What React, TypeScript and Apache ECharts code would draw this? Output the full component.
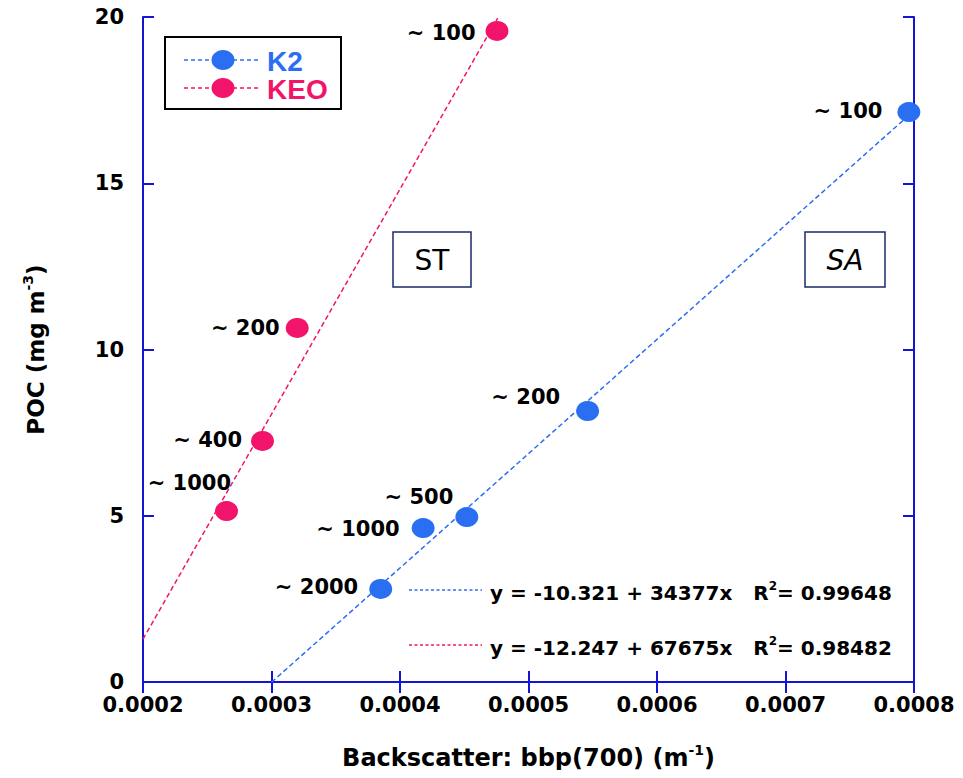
import React, { useEffect, useRef } from 'react';
import * as echarts from 'echarts';

// ---- data ----
const k2X = [0.000796, 0.000546, 0.000452, 0.000418, 0.000385];
const k2Y = [17.14, 8.15, 4.96, 4.63, 2.8];
const k2Depth = ['~ 100', '~ 200', '~ 500', '~ 1000', '~ 2000'];

const keoX = [0.0004755, 0.00032, 0.000293, 0.000265];
const keoY = [19.58, 10.65, 7.25, 5.14];
const keoDepth = ['~ 100', '~ 200', '~ 400', '~ 1000'];

// regression: [intercept, slope], R², x-range
const k2Fit = [-10.321, 34377];
const k2R2 = '0.99648';
const k2FitRange = [0.0003, 0.0008];
const keoFit = [-12.247, 67675];
const keoR2 = '0.98482';
const keoFitRange = [0.0002, 0.000476];

const xTicks = { min: 0.0002, max: 0.0008, interval: 0.0001 };
const yTicks = { min: 0, max: 20, interval: 5 };

// label placement (style)
const k2LabelOffsets = [[-5, -1], [-6, -14], [8, -20], [-2, 1], [-1, -2]];
const keoLabelOffsets = [[0, 2], [4, 0], [1, -1], [26, -28]];

const BLUE = '#2a6ff2';
const PINK = '#f2146a';
const AXIS = '#1414d2';
const FONT = '"Liberation Sans", Arial, Helvetica, sans-serif';
const WIDE = '"DejaVu Sans", "Liberation Sans", sans-serif';

function fitLine(coef: number[], range: number[]) {
  return range.map((x) => [x, coef[0] + coef[1] * x]);
}

export default function App() {
  const ref = useRef<HTMLDivElement>(null);
  useEffect(() => {
    if (!ref.current) return;
    const chart = echarts.init(ref.current, undefined, { renderer: 'svg' });
    const labelStyle = {
      show: true,
      position: 'left' as const,
      distance: 10,
      color: '#000',
      fontSize: 21,
      fontWeight: 'bold' as const,
      fontFamily: WIDE,
    };
    const mkPts = (xs: number[], ys: number[], labels: string[], offs: number[][]) =>
      xs.map((x, i) => ({
        value: [x, ys[i]],
        label: { ...labelStyle, formatter: labels[i], offset: offs[i] },
      }));

    const axisLine = { show: true, lineStyle: { color: AXIS, width: 2 } };
    const axisTick = { show: true, inside: true, length: 11, lineStyle: { color: AXIS, width: 2 } };
    const richName = (color: string, size: number, family: string) => ({
      b: { fontSize: size, fontWeight: 'bold', color, fontFamily: family, lineHeight: size + 6 },
      s: { fontSize: Math.round(size * 0.6), fontWeight: 'bold', color, fontFamily: family, verticalAlign: 'top', lineHeight: size + 6 },
    });

    const option: any = {
      animation: false,
      backgroundColor: '#fff',
      grid: { left: 143, right: 49, top: 17, bottom: 96, containLabel: false },
      xAxis: [
        {
          type: 'value',
          min: xTicks.min,
          max: xTicks.max,
          interval: xTicks.interval,
          position: 'bottom',
          axisLine,
          axisTick,
          splitLine: { show: false },
          axisLabel: {
            margin: 12,
            color: '#000',
            fontSize: 21,
            fontWeight: 'bold',
            fontFamily: WIDE,
            formatter: (v: number) => v.toFixed(4),
          },
          name: '{b|Backscatter: bbp(700) (m}{s|-1}{b|)}',
          nameLocation: 'middle',
          nameGap: 61,
          nameTextStyle: { rich: richName('#000', 24, WIDE) },
        },
        {
          type: 'value',
          min: xTicks.min,
          max: xTicks.max,
          interval: xTicks.interval,
          position: 'top',
          axisLine,
          axisTick,
          splitLine: { show: false },
          axisLabel: { show: false },
        },
      ],
      yAxis: [
        {
          type: 'value',
          min: yTicks.min,
          max: yTicks.max,
          interval: yTicks.interval,
          position: 'left',
          axisLine,
          axisTick,
          splitLine: { show: false },
          axisLabel: {
            margin: 19,
            color: '#000',
            fontSize: 21,
            fontWeight: 'bold',
            fontFamily: WIDE,
          },
          name: '{b|POC (mg m}{s|-3}{b|)}',
          nameLocation: 'middle',
          nameGap: 93,
          nameTextStyle: { rich: richName('#000', 23, WIDE) },
        },
        {
          type: 'value',
          min: yTicks.min,
          max: yTicks.max,
          interval: yTicks.interval,
          position: 'right',
          axisLine,
          axisTick,
          splitLine: { show: false },
          axisLabel: { show: false },
        },
      ],
      series: [
        {
          name: 'K2 fit',
          type: 'line',
          data: fitLine(k2Fit, k2FitRange),
          showSymbol: false,
          symbol: 'none',
          lineStyle: { color: BLUE, width: 1.5, type: [5, 3] },
          z: 1,
        },
        {
          name: 'KEO fit',
          type: 'line',
          data: fitLine(keoFit, keoFitRange),
          showSymbol: false,
          symbol: 'none',
          lineStyle: { color: PINK, width: 1.5, type: [5, 3] },
          z: 1,
        },
        {
          name: 'K2',
          type: 'scatter',
          symbol: 'circle',
          symbolSize: [23, 20],
          itemStyle: { color: BLUE, opacity: 1 },
          data: mkPts(k2X, k2Y, k2Depth, k2LabelOffsets),
          z: 3,
        },
        {
          name: 'KEO',
          type: 'scatter',
          symbol: 'circle',
          symbolSize: [23, 20],
          itemStyle: { color: PINK, opacity: 1 },
          data: mkPts(keoX, keoY, keoDepth, keoLabelOffsets),
          z: 3,
        },
      ],
      graphic: [
        // legend box
        { type: 'rect', shape: { x: 165, y: 37, width: 176, height: 72 }, style: { fill: '#fff', stroke: '#000', lineWidth: 2 }, z: 10 },
        { type: 'line', shape: { x1: 184, y1: 60, x2: 258, y2: 60 }, style: { stroke: BLUE, lineWidth: 1.5, lineDash: [4, 3] }, z: 11 },
        { type: 'ellipse', shape: { cx: 223, cy: 60, rx: 11.5, ry: 10 }, style: { fill: BLUE }, z: 12 },
        { type: 'text', x: 267, y: 61, style: { text: 'K2', fill: BLUE, font: `bold 28px ${FONT}`, verticalAlign: 'middle' }, z: 12 },
        { type: 'line', shape: { x1: 184, y1: 88, x2: 258, y2: 88 }, style: { stroke: PINK, lineWidth: 1.5, lineDash: [4, 3] }, z: 11 },
        { type: 'ellipse', shape: { cx: 223, cy: 88, rx: 11.5, ry: 10 }, style: { fill: PINK }, z: 12 },
        { type: 'text', x: 267, y: 89, style: { text: 'KEO', fill: PINK, font: `bold 28px ${FONT}`, verticalAlign: 'middle' }, z: 12 },
        // region boxes
        { type: 'rect', shape: { x: 393, y: 232, width: 78, height: 55 }, style: { fill: '#fff', stroke: '#1a2a6a', lineWidth: 1.5 }, z: 10 },
        { type: 'text', x: 432, y: 260, style: { text: 'ST', fill: '#000', font: `28px "DejaVu Sans", sans-serif`, align: 'center', verticalAlign: 'middle' }, z: 11 },
        { type: 'rect', shape: { x: 805, y: 232, width: 80, height: 55 }, style: { fill: '#fff', stroke: '#1a2a6a', lineWidth: 1.5 }, z: 10 },
        { type: 'text', x: 845, y: 260, style: { text: 'SA', fill: '#000', font: `italic 28px "DejaVu Sans", sans-serif`, align: 'center', verticalAlign: 'middle' }, z: 11 },
        // equations
        { type: 'line', shape: { x1: 409, y1: 590, x2: 482, y2: 590 }, style: { stroke: BLUE, lineWidth: 1.5, lineDash: [3, 2.5] }, z: 11 },
        {
          type: 'text', x: 490, y: 593,
          style: {
            text: `{b|y = ${k2Fit[0]} + ${k2Fit[1]}x   R}{s|2}{b|= ${k2R2}}`,
            verticalAlign: 'middle',
            rich: richName(BLUE, 20, WIDE),
          },
          z: 11,
        },
        { type: 'line', shape: { x1: 409, y1: 645, x2: 482, y2: 645 }, style: { stroke: PINK, lineWidth: 1.5, lineDash: [3, 2.5] }, z: 11 },
        {
          type: 'text', x: 490, y: 648,
          style: {
            text: `{b|y = ${keoFit[0]} + ${keoFit[1]}x   R}{s|2}{b|= ${keoR2}}`,
            verticalAlign: 'middle',
            rich: richName(PINK, 20, WIDE),
          },
          z: 11,
        },
      ],
    };
    chart.setOption(option);
    return () => chart.dispose();
  }, []);
  return <div ref={ref} style={{ width: 963, height: 778, margin: -8 }} />;
}
